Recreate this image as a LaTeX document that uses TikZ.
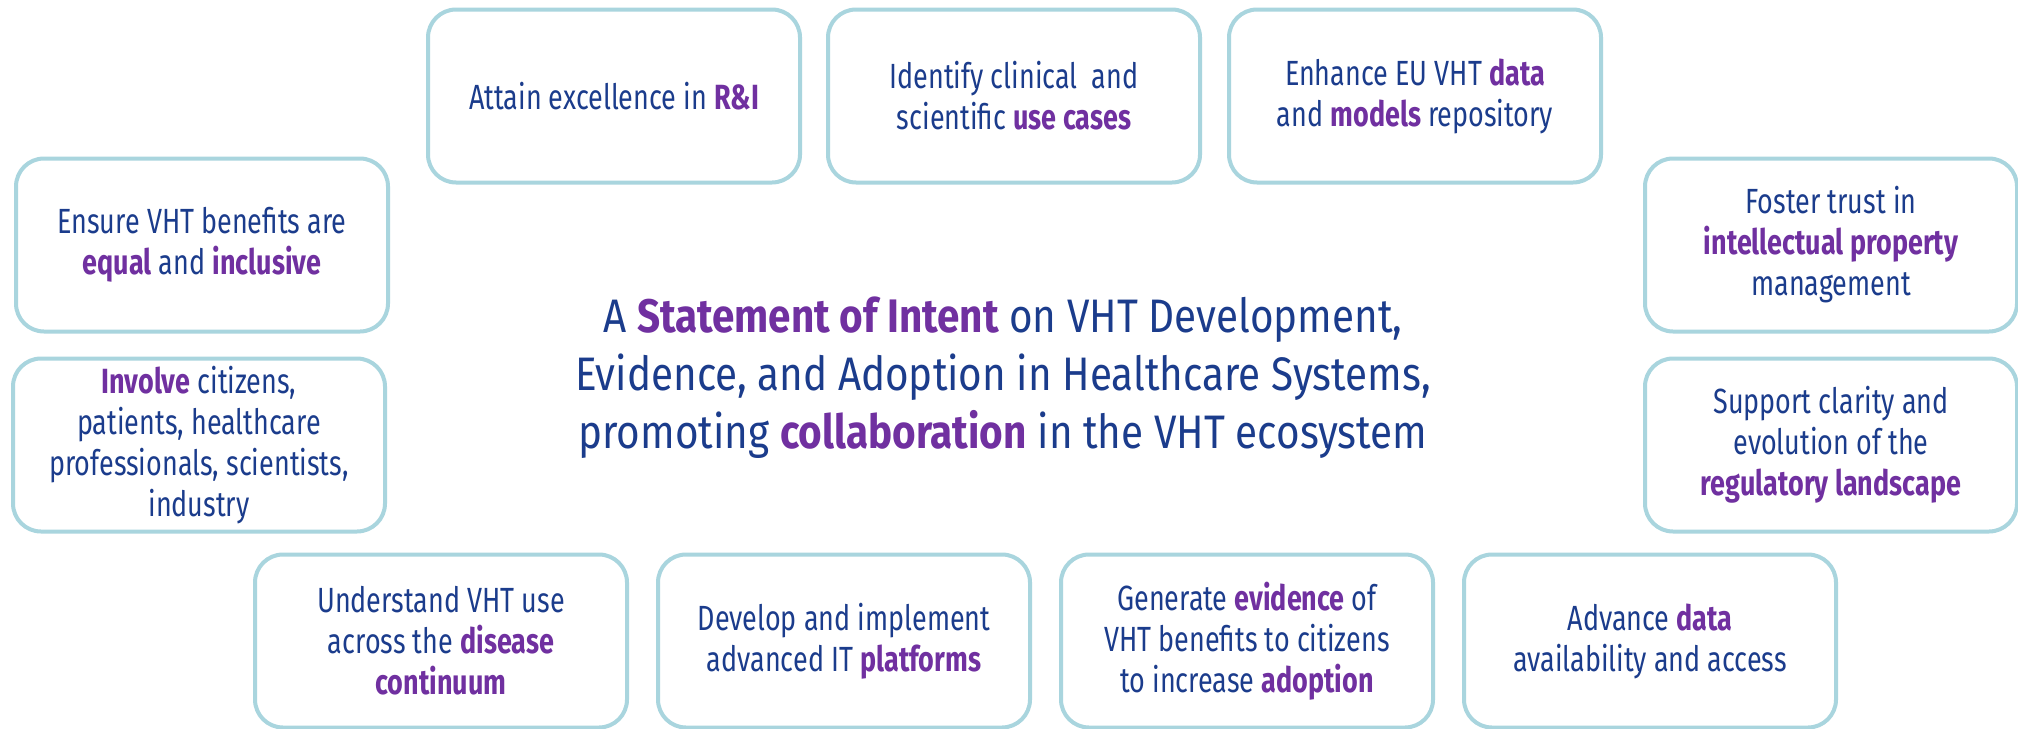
\documentclass[tikz,border=0pt]{standalone}
\usepackage{fontspec}
\setmainfont{Fira Sans}[FakeStretch=0.77]
\newfontfamily\centerfont{Fira Sans}[FakeStretch=0.86]
\definecolor{eublue}{HTML}{1B3C8C}
\definecolor{eupurple}{HTML}{7030A0}
\definecolor{boxline}{HTML}{A9D5DE}
\newcommand{\hl}[1]{\textbf{\textcolor{eupurple}{#1}}}
\tikzset{
  goal/.style={draw=boxline, line width=4pt, rounded corners=28pt,
    minimum width=372pt, minimum height=173pt, align=center,
    text=eublue, font=\fontsize{35}{41}\selectfont, inner sep=0pt},
  center/.style={align=center, text=eublue, font=\centerfont\fontsize{47}{58}\selectfont}
}
\begin{document}
\begin{tikzpicture}[x=1pt,y=-1pt]
\useasboundingbox[fill=white] (0,0) rectangle (2018,728);
% top row
\node[goal] (rni) at (614,96) {Attain excellence in \hl{R\&I}};
\node[goal] (use) at (1014,96) {Identify clinical\ \ and\\scientific \hl{use cases}};
\node[goal] (repo) at (1415,96) {Enhance EU VHT \hl{data}\\and \hl{models} repository};
% left
\node[goal] (equal) at (202,245) {Ensure VHT benefits are\\\hl{equal} and \hl{inclusive}};
\node[goal] (involve) at (199,445) {\hl{Involve} citizens,\\patients, healthcare\\professionals, scientists,\\industry};
% right
\node[goal] (ip) at (1831,245) {Foster trust in\\\hl{intellectual property}\\management};
\node[goal] (reg) at (1831,445) {Support clarity and\\evolution of the\\\hl{regulatory landscape}};
% bottom row
\node[goal] (dis) at (441,641) {Understand VHT use\\across the \hl{disease}\\\hl{continuum}};
\node[goal] (plat) at (844,641) {Develop and implement\\advanced IT \hl{platforms}};
\node[goal] (evid) at (1247,641) {Generate \hl{evidence} of\\VHT benefits to citizens\\to increase \hl{adoption}};
\node[goal] (data) at (1650,641) {Advance \hl{data}\\availability and access};
% centre
\node[center] (soi) at (1003,378) {A \hl{Statement of Intent} on VHT Development,\\Evidence, and Adoption in Healthcare Systems,\\promoting \hl{collaboration} in the VHT ecosystem};
\end{tikzpicture}
\end{document}
